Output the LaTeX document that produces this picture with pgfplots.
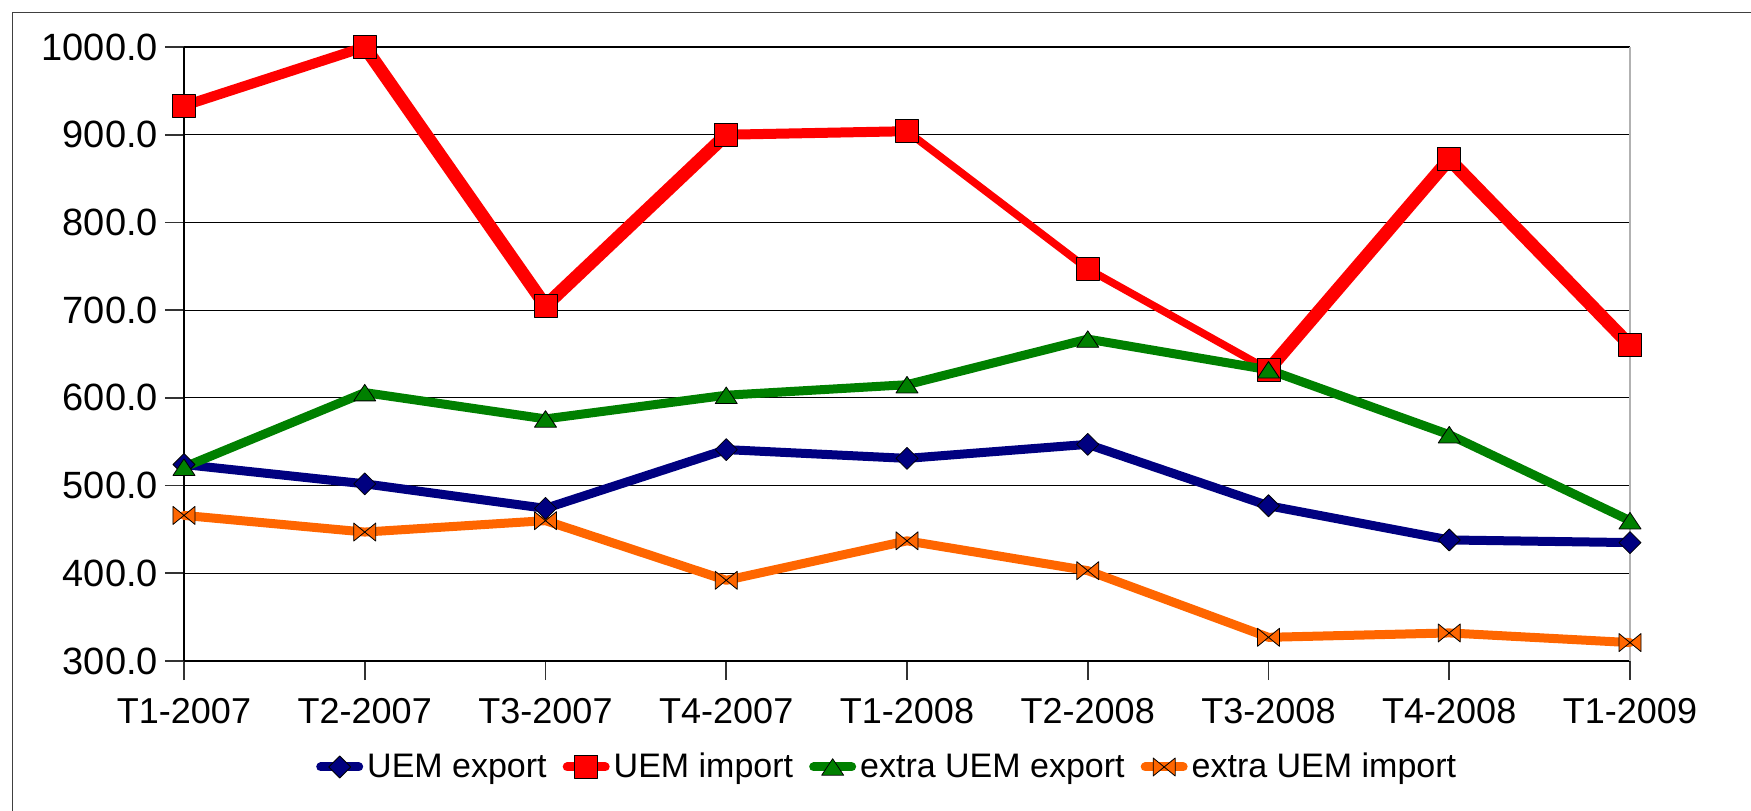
\documentclass[border=0pt]{standalone}
\usepackage{pgfplots}
\pgfplotsset{compat=1.18}
\usepackage{fontspec}
\setmainfont{Liberation Sans}

\definecolor{uemexp}{HTML}{000080}
\definecolor{uemimp}{HTML}{FF0000}
\definecolor{extexp}{HTML}{008000}
\definecolor{extimp}{HTML}{FF6600}

% marks as Excel draws them
\pgfdeclareplotmark{rhomb}{%
  \pgfpathmoveto{\pgfpoint{0pt}{\pgfplotmarksize}}%
  \pgfpathlineto{\pgfpoint{\pgfplotmarksize}{0pt}}%
  \pgfpathlineto{\pgfpoint{0pt}{-\pgfplotmarksize}}%
  \pgfpathlineto{\pgfpoint{-\pgfplotmarksize}{0pt}}%
  \pgfpathclose\pgfusepathqfillstroke}
\pgfdeclareplotmark{tri}{%
  \pgfpathmoveto{\pgfpoint{0pt}{0.75\pgfplotmarksize}}%
  \pgfpathlineto{\pgfpoint{\pgfplotmarksize}{-0.75\pgfplotmarksize}}%
  \pgfpathlineto{\pgfpoint{-\pgfplotmarksize}{-0.75\pgfplotmarksize}}%
  \pgfpathclose\pgfusepathqfillstroke}
\pgfdeclareplotmark{bowtie}{%
  \pgfpathmoveto{\pgfpoint{-\pgfplotmarksize}{-0.82\pgfplotmarksize}}%
  \pgfpathlineto{\pgfpoint{\pgfplotmarksize}{0.82\pgfplotmarksize}}%
  \pgfpathlineto{\pgfpoint{\pgfplotmarksize}{-0.82\pgfplotmarksize}}%
  \pgfpathlineto{\pgfpoint{-\pgfplotmarksize}{0.82\pgfplotmarksize}}%
  \pgfpathclose\pgfusepathqfillstroke}

\pgfplotstableread{
x  uemexp uemimp extexp extimp
0  524    933    521    466
1  502    1000   606    447
2  474    705    576    460
3  541    900    603    392
4  531    904    615    437
5  547    747    667    403
6  477    632    632    327
7  438    872    558    332
8  435    660    460    321
}\datatable

\begin{document}
\begin{tikzpicture}
\begin{axis}[
  scale only axis,
  width=723pt, height=307pt,
  xmin=0, xmax=8, ymin=300, ymax=1000,
  axis lines*=left,
  clip=false,
  xtick={0,...,8},
  xticklabels={T1-2007,T2-2007,T3-2007,T4-2007,T1-2008,T2-2008,T3-2008,T4-2008,T1-2009},
  ytick={300,400,...,1000},
  tick align=outside,
  major tick length=9.5pt,
  ymajorgrids,
  major grid style={black, line width=0.6pt},
  axis line style={black, line width=0.8pt},
  tick style={black!80, line width=0.8pt},
  scaled y ticks=false,
  /pgf/number format/assume math mode=true,
  yticklabel style={font=\fontsize{19}{21}\selectfont,
    /pgf/number format/fixed, /pgf/number format/fixed zerofill,
    /pgf/number format/precision=1, /pgf/number format/1000 sep={}},
  xticklabel style={font=\fontsize{18}{20}\selectfont, yshift=-5.5pt},
  legend style={at={(0.487,-0.1726)}, anchor=center, draw=none, fill=none,
    legend columns=4, font=\fontsize{17}{20}\selectfont,
    /tikz/every even column/.append style={column sep=6pt}},
  legend cell align=left,
  legend image code/.code={\draw[mark repeat=2, mark phase=2, #1]
    plot coordinates {(0pt,0pt) (9.5pt,0pt) (19pt,0pt)};},
  every axis plot/.append style={line join=round, line cap=round},
]
\draw[black!30, line width=0.8pt] (rel axis cs:1,0) -- (rel axis cs:1,1);

\addplot[uemexp, line width=4.5pt, mark=rhomb, mark size=5.5pt,
  mark options={fill=uemexp, draw=black, line width=0.4pt}]
  table[x=x, y=uemexp] {\datatable};
\addlegendentry{UEM export}

% red line, drawn in pieces of different width as in the picture
\addplot[uemimp, line width=5pt, forget plot] coordinates {(0,933) (1,1000)};
\addplot[uemimp, line width=6.5pt, forget plot] coordinates {(1,1000) (2,705) (3,900)};
\addplot[uemimp, line width=5pt, forget plot] coordinates {(3,900) (4,904)};
\addplot[uemimp, line width=3.8pt, forget plot] coordinates {(4,904) (5,747) (6,632)};
\addplot[uemimp, line width=6.5pt, forget plot] coordinates {(6,632) (7,872) (8,660)};
\addplot[only marks, mark=square*, mark size=5.75pt,
  mark options={fill=uemimp, draw=black, line width=0.4pt}, forget plot]
  table[x=x, y=uemimp] {\datatable};
\addlegendimage{uemimp, line width=4.5pt, mark=square*, mark size=5.75pt,
  mark options={fill=uemimp, draw=black, line width=0.4pt}}
\addlegendentry{UEM import}

\addplot[extexp, line width=4.5pt, mark=tri, mark size=5.5pt,
  mark options={fill=extexp, draw=black, line width=0.4pt}]
  table[x=x, y=extexp] {\datatable};
\addlegendentry{extra UEM export}

\addplot[extimp, line width=4.5pt, mark=bowtie, mark size=5.5pt,
  mark options={fill=extimp, draw=black, line width=0.4pt}]
  table[x=x, y=extimp] {\datatable};
\addlegendentry{extra UEM import}
\end{axis}
% chart frame, cut by the page on the right and at the bottom
\draw[black!75, line width=0.6pt] (-85.75pt,-90pt) -- (-85.75pt,324.25pt) -- (800pt,324.25pt);
\pgfresetboundingbox
\useasboundingbox (-92pt,-74.5pt) rectangle (783.5pt,330.5pt);
\end{tikzpicture}
\end{document}
